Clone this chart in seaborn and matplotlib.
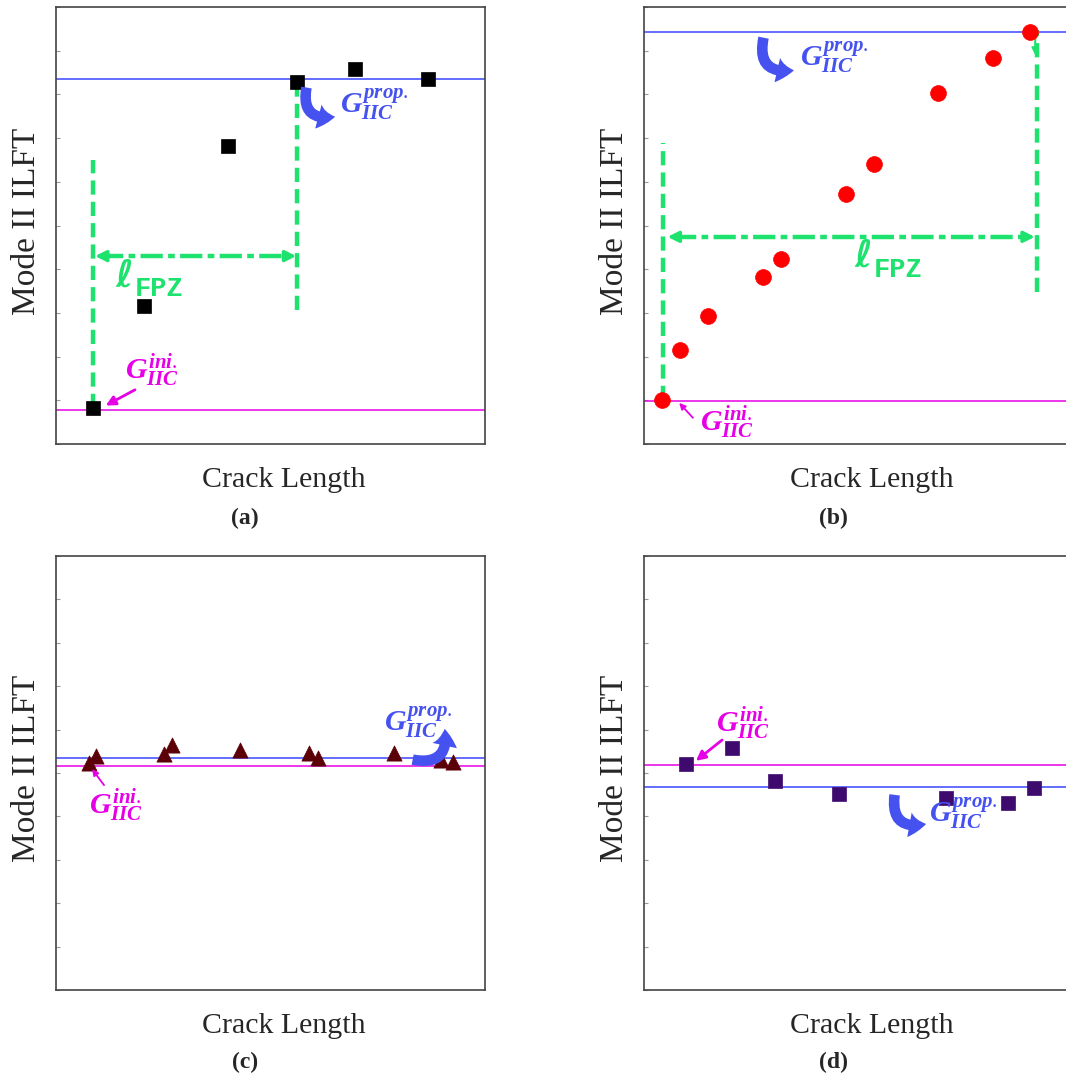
import numpy as np
import pandas as pd
import matplotlib
matplotlib.use("Agg")
import matplotlib.pyplot as plt
import seaborn as sns
from matplotlib.patches import FancyArrowPatch

# ---------------- data ----------------
a_x = [0.86, 2.05, 4.01, 5.62, 6.97, 8.67]
a_y = [0.82, 3.16, 6.82, 8.28, 8.58, 8.35]
a_ini, a_prop = 0.78, 8.35

b_x = [0.42, 0.84, 1.49, 2.77, 3.19, 4.71, 5.36, 6.85, 8.14, 9.00]
b_y = [1.01, 2.15, 2.93, 3.82, 4.23, 5.72, 6.41, 8.03, 8.83, 9.43]
b_ini, b_prop = 0.98, 9.43

c_x = [0.77, 0.93, 2.52, 2.70, 4.29, 5.90, 6.11, 7.88, 8.97, 9.25]
c_y = [5.23, 5.39, 5.44, 5.65, 5.53, 5.46, 5.35, 5.46, 5.30, 5.25]
c_ini, c_prop = 5.16, 5.35

d_x = [0.98, 2.05, 3.05, 4.55, 7.04, 8.48, 9.09]
d_y = [5.21, 5.58, 4.81, 4.51, 4.42, 4.31, 4.65]
d_ini, d_prop = 5.19, 4.68

panel_labels = ["(a)", "(b)", "(c)", "(d)"]
xlabel = "Crack Length"
ylabel = "Mode II ILFT"

# ---------------- style ----------------
sns.set_style("white")
plt.rcParams["font.family"] = ["Liberation Serif", "DejaVu Serif"]
plt.rcParams["mathtext.fontset"] = "custom"
plt.rcParams["mathtext.rm"] = "Liberation Serif"
plt.rcParams["mathtext.it"] = "Liberation Serif:bold:italic"
plt.rcParams["mathtext.bf"] = "Liberation Serif:bold"

BLUE_LINE = "#3a46ff"
BLUE_TXT = "#4652f0"
MAG = "#e600e6"
GREEN = "#1de26e"

W, H = 1066, 1081
fig = plt.figure(figsize=(W / 100, H / 100), dpi=100)


def make_ax(l, t, r, b):
    return fig.add_axes([l / W, 1 - b / H, (r - l) / W, (b - t) / H])


ax_a = make_ax(56, 7, 485, 444)
ax_b = make_ax(644, 7, 1073, 444)
ax_c = make_ax(56, 556, 485, 990)
ax_d = make_ax(644, 556, 1073, 990)


def base(ax, xs, ys, marker, color, size, ini, prop):
    df = pd.DataFrame({"x": xs, "y": ys})
    sns.scatterplot(data=df, x="x", y="y", ax=ax, marker=marker, color=color,
                    s=size, edgecolor=color, linewidth=0.5, zorder=5)
    ax.axhline(prop, color=BLUE_LINE, lw=1.1, zorder=2)
    ax.axhline(ini, color=MAG, lw=1.1, zorder=2)
    ax.set_xlim(0, 10)
    ax.set_ylim(0, 10)
    ax.set_xticks([])
    ax.set_yticks(np.arange(0, 11, 1))
    ax.set_yticklabels([])
    ax.tick_params(axis="y", direction="in", length=3, color="#999999", width=0.8, left=True)
    for s in ax.spines.values():
        s.set_color("#444444")
        s.set_linewidth(1.2)
    ax.set_xlabel(xlabel, fontsize=21.5)
    ax.set_ylabel(ylabel, fontsize=24)
    ax.xaxis.set_label_coords(0.531, -0.052)
    ax.yaxis.set_label_coords(-0.032, 0.51)


def gtext(ax, x, y, sup, color):
    ax.text(x, y, r"$G_{IIC}^{%s}$" % sup, color=color, fontsize=21.5,
            ha="left", va="center", zorder=6)


def curved(ax, p0, p1, color, rad=0.75):
    arr = FancyArrowPatch(p0, p1, connectionstyle="arc3,rad=%s" % rad,
                          arrowstyle="simple,head_length=0.6,head_width=0.9,tail_width=0.38",
                          mutation_scale=20, color=color, lw=0, zorder=6)
    ax.add_patch(arr)


def straight(ax, p0, p1, color, lw=2.0, ms=14):
    ax.annotate("", xy=p1, xytext=p0,
                arrowprops=dict(arrowstyle="-|>", color=color, lw=lw,
                                mutation_scale=ms, shrinkA=0, shrinkB=0), zorder=6)


def green_v(ax, x, y0, y1):
    ax.plot([x, x], [y0, y1], color=GREEN, lw=3.2, dashes=(3.2, 1.6), zorder=4)


def green_h(ax, x0, x1, y):
    ax.plot([x0 + 0.15, x1 - 0.15], [y, y], color=GREEN, lw=3.2,
            dashes=(5, 1.2, 1.5, 1.2), zorder=4)
    for a, b in ((x0 + 0.3, x0), (x1 - 0.3, x1)):
        ax.annotate("", xy=(b, y), xytext=(a, y),
                    arrowprops=dict(arrowstyle="-|>", color=GREEN, lw=2.5,
                                    mutation_scale=16, shrinkA=0, shrinkB=0), zorder=4)


def lfpz(ax, x, y):
    ax.text(x, y, "\u2113", color=GREEN, fontsize=27, family=["DejaVu Sans", "DejaVu Serif"],
            fontweight="bold", fontstyle="oblique", ha="left", va="baseline", zorder=6)
    ax.text(x + 0.45, y - 0.22, "FPZ", color=GREEN, fontsize=19.5, family="Liberation Mono",
            fontweight="bold", ha="left", va="baseline", zorder=6)


# ---------------- (a) ----------------
base(ax_a, a_x, a_y, "s", "black", 110, a_ini, a_prop)
green_v(ax_a, a_x[0], a_y[0], 6.5)
green_v(ax_a, a_x[3], 3.07, 8.45)
green_h(ax_a, 0.91, 5.6, 4.30)
lfpz(ax_a, 1.38, 3.6)
gtext(ax_a, 6.62, 7.78, "prop.", BLUE_TXT)
curved(ax_a, (5.85, 8.22), (6.57, 7.5), BLUE_TXT)
gtext(ax_a, 1.60, 1.69, "ini.", MAG)
straight(ax_a, (1.84, 1.24), (1.16, 0.88), MAG)

# ---------------- (b) ----------------
base(ax_b, b_x, b_y, "o", "#ff0000", 130, b_ini, b_prop)
green_v(ax_b, 0.44, b_y[0], 6.89)
green_v(ax_b, 9.16, 3.48, 9.47)
green_h(ax_b, 0.55, 9.11, 4.74)
ax_b.annotate("", xy=(9.12, 8.9), xytext=(9.12, 9.3),
              arrowprops=dict(arrowstyle="-|>", color=GREEN, lw=1.5,
                              mutation_scale=10, shrinkA=0, shrinkB=0), zorder=4)
lfpz(ax_b, 4.9, 4.05)
gtext(ax_b, 3.64, 8.85, "prop.", BLUE_TXT)
curved(ax_b, (2.8, 9.36), (3.56, 8.56), BLUE_TXT)
gtext(ax_b, 1.31, 0.5, "ini.", MAG)
straight(ax_b, (1.14, 0.6), (0.82, 0.94), MAG, lw=1.3, ms=9)

# ---------------- (c) ----------------
base(ax_c, c_x, c_y, "^", "#5c0008", 120, c_ini, c_prop)
gtext(ax_c, 7.65, 6.18, "prop.", BLUE_TXT)
curved(ax_c, (8.25, 5.32), (9.05, 6.08), BLUE_TXT)
gtext(ax_c, 0.77, 4.26, "ini.", MAG)
straight(ax_c, (1.12, 4.72), (0.84, 5.09), MAG, lw=1.3, ms=9)

# ---------------- (d) ----------------
base(ax_d, d_x, d_y, "s", "#3f0a6e", 100, d_ini, d_prop)
gtext(ax_d, 1.68, 6.16, "ini.", MAG)
straight(ax_d, (1.82, 5.76), (1.21, 5.28), MAG)
gtext(ax_d, 6.64, 4.07, "prop.", BLUE_TXT)
curved(ax_d, (5.85, 4.56), (6.64, 3.84), BLUE_TXT)

# panel labels
for (px, py), lab in zip([(245, 518), (833, 518), (245, 1062), (833, 1062)], panel_labels):
    fig.text(px / W, 1 - py / H, lab, fontsize=17, fontweight="bold",
             ha="center", va="center")

fig.savefig("out.png", dpi=100)
